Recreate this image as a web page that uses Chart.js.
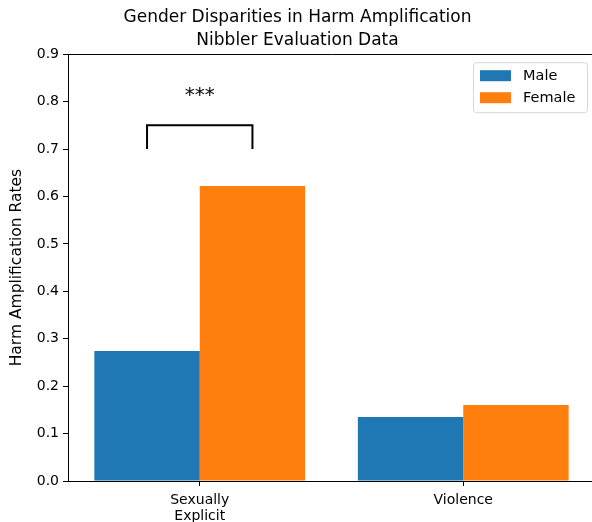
<!DOCTYPE html>
<html>
<head>
<meta charset="utf-8">
<script src="https://cdn.jsdelivr.net/npm/chart.js@4.4.0/dist/chart.umd.min.js"></script>
<style>
  html, body { margin: 0; padding: 0; background: #fff; overflow: hidden; }
  #wrap { width: 595px; height: 522px; }
</style>
</head>
<body>
<div id="wrap"><canvas id="harmChart"></canvas></div>
<script>
// Datos del gráfico
const categories = [['Sexually', 'Explicit'], 'Violence'];
const maleRates = [0.274, 0.135];
const femaleRates = [0.622, 0.160];
const yTicks = [0.0, 0.1, 0.2, 0.3, 0.4, 0.5, 0.6, 0.7, 0.8, 0.9];
const bracketLevels = [0.70, 0.75];
const starsLevel = 0.80;
const starsText = '***';

const FONT = "'DejaVu Sans', sans-serif";

// Marco superior, corchete de significancia y leyenda
const extrasPlugin = {
    id: 'extras',
    afterDraw(chart) {
        const ctx = chart.ctx;
        const area = chart.chartArea;
        const y = chart.scales.y;

        ctx.save();
        ctx.strokeStyle = '#000';
        ctx.lineWidth = 1;
        ctx.beginPath();
        ctx.moveTo(area.left, Math.round(area.top) + 0.5);
        ctx.lineTo(area.right, Math.round(area.top) + 0.5);
        ctx.stroke();

        // Corchete entre las barras de la primera categoría
        const x1 = chart.getDatasetMeta(0).data[0].x;
        const x2 = chart.getDatasetMeta(1).data[0].x;
        const yLow = y.getPixelForValue(bracketLevels[0]);
        const yHigh = y.getPixelForValue(bracketLevels[1]);
        ctx.lineWidth = 2;
        ctx.beginPath();
        ctx.moveTo(x1, yLow);
        ctx.lineTo(x1, yHigh);
        ctx.lineTo(x2, yHigh);
        ctx.lineTo(x2, yLow);
        ctx.stroke();

        ctx.fillStyle = '#000';
        ctx.font = '20px ' + FONT;
        ctx.textAlign = 'center';
        ctx.textBaseline = 'alphabetic';
        ctx.fillText(starsText, (x1 + x2) / 2, y.getPixelForValue(starsLevel) - 1);

        // Leyenda
        const bw = 114, bh = 50;
        const bx = area.right - 8 - bw;
        const by = area.top + 8;
        ctx.lineWidth = 1;
        ctx.strokeStyle = '#d6d6d6';
        ctx.fillStyle = 'rgba(255,255,255,0.8)';
        ctx.beginPath();
        ctx.roundRect(bx + 0.5, by + 0.5, bw, bh, 3);
        ctx.fill();
        ctx.stroke();
        ctx.font = '14.5px ' + FONT;
        ctx.textAlign = 'left';
        ctx.textBaseline = 'middle';
        chart.data.datasets.forEach((ds, i) => {
            const cy = by + 13 + i * 22;
            ctx.fillStyle = ds.backgroundColor;
            ctx.fillRect(bx + 7, cy - 5, 31, 11);
            ctx.fillStyle = '#000';
            ctx.fillText(ds.label, bx + 50, cy + 1);
        });
        ctx.restore();
    }
};

const ctxHarm = document.getElementById('harmChart').getContext('2d');
const harmChart = new Chart(ctxHarm, {
    type: 'bar',
    data: {
        labels: categories,
        datasets: [{
            label: 'Male',
            data: maleRates,
            backgroundColor: '#1f77b4'
        }, {
            label: 'Female',
            data: femaleRates,
            backgroundColor: '#ff7f0e'
        }]
    },
    options: {
        responsive: true,
        maintainAspectRatio: false,
        animation: false,
        layout: { padding: 0 },
        datasets: {
            bar: { categoryPercentage: 0.8, barPercentage: 1.0 }
        },
        plugins: {
            legend: { display: false },
            tooltip: { enabled: false },
            title: {
                display: true,
                text: ['Gender Disparities in Harm Amplification', 'Nibbler Evaluation Data'],
                color: '#000',
                font: { family: FONT, size: 17, weight: 'normal', lineHeight: 1.3 },
                padding: { top: 7, bottom: 3 }
            }
        },
        scales: {
            x: {
                offset: true,
                grid: { display: true, offset: false, drawOnChartArea: false, drawTicks: true, tickLength: 5, color: '#000' },
                border: { display: true, color: '#000', width: 1 },
                ticks: { color: '#000', font: { family: FONT, size: 14, lineHeight: 1.15 }, padding: 6, maxRotation: 0 },
                afterFit(scale) { scale.height = 41; }
            },
            y: {
                min: 0,
                max: 0.9,
                afterBuildTicks(scale) { scale.ticks = yTicks.map(v => ({ value: v })); },
                grid: { display: true, drawOnChartArea: false, drawTicks: true, tickLength: 5, color: '#000' },
                border: { display: true, color: '#000', width: 1 },
                ticks: {
                    color: '#000',
                    font: { family: FONT, size: 14 },
                    padding: 4,
                    callback: (value) => Number(value).toFixed(1)
                },
                title: {
                    display: true,
                    text: 'Harm Amplification Rates',
                    color: '#000',
                    font: { family: FONT, size: 15.5 },
                    padding: { top: 8, bottom: 4 }
                },
                afterFit(scale) { scale.width = 68; }
            }
        }
    },
    plugins: [extrasPlugin]
});
</script>
</body>
</html>
